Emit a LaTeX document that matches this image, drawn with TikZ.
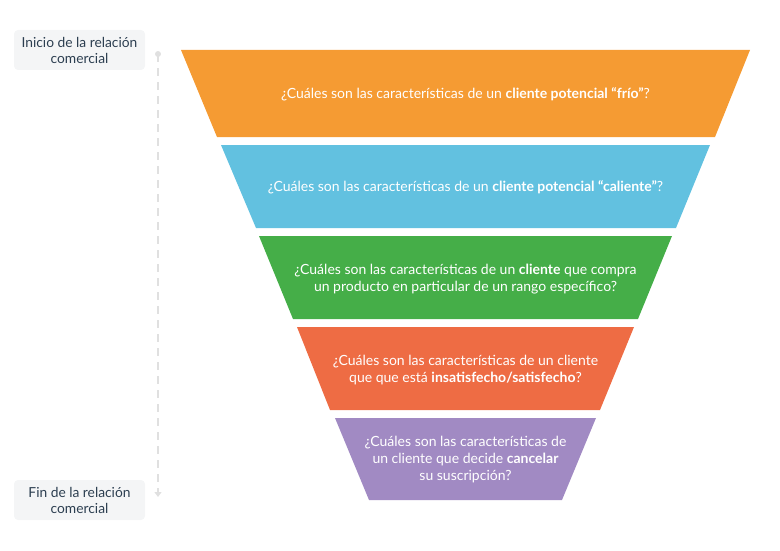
\documentclass[tikz,border=0pt]{standalone}
\usepackage{fontspec}
\setmainfont{Lato}
\usetikzlibrary{arrows.meta}
\definecolor{c1}{HTML}{F59B33}
\definecolor{c2}{HTML}{62C1E0}
\definecolor{c3}{HTML}{45AE48}
\definecolor{c4}{HTML}{EE6C44}
\definecolor{c5}{HTML}{A18AC3}
\definecolor{lab}{HTML}{2C3E50}
\definecolor{boxf}{HTML}{F4F5F6}
\begin{document}
\begin{tikzpicture}[x=1pt,y=-1pt,
  lbl/.style={fill=boxf,rounded corners=4pt,text=lab,align=center,font=\fontsize{13.8}{16}\selectfont,minimum width=131pt,minimum height=40pt,inner sep=0pt},
  ft/.style={text=white,align=center,font=\fontsize{14}{17}\selectfont}]
\useasboundingbox (0,0) rectangle (780,551);
\node[lbl] (a) at (79.5,50) {Inicio de la relación\\comercial};
\node[lbl] (b) at (79.5,500) {Fin de la relación\\comercial};
\coordinate (s) at (158,54);
\coordinate (e) at (158,497);
\fill[black!12] (s) circle (3);
\draw[black!12,line width=1.5pt,dash pattern=on 8pt off 6pt,-{Triangle[width=7pt,length=5pt]}] (s) -- (e);
\fill[c1] (181,50) -- (750,50) -- (715,137) -- (217,137) -- cycle;
\fill[c2] (221,145) -- (710,145) -- (676,228) -- (256,228) -- cycle;
\fill[c3] (259,236) -- (672,236) -- (638,319) -- (293,319) -- cycle;
\fill[c4] (297,327) -- (634,327) -- (600,410) -- (330,410) -- cycle;
\fill[c5] (335,418) -- (596,418) -- (562,500) -- (369,500) -- cycle;
\node[ft] (t1) at (465.5,94) {¿Cuáles son las características de un \textbf{cliente potencial “frío”}?};
\node[ft] (t2) at (465.5,187) {¿Cuáles son las características de un \textbf{cliente potencial “caliente”}?};
\node[ft] (t3) at (465.5,279) {¿Cuáles son las características de un \textbf{cliente} que compra\\un producto en particular de un rango específico?};
\node[ft] (t4) at (465.5,370) {¿Cuáles son las características de un cliente\\que que está \textbf{insatisfecho/satisfecho}?};
\node[ft] (t5) at (465.5,460) {¿Cuáles son las características de\\un cliente que decide \textbf{cancelar}\\su suscripción?};
\end{tikzpicture}
\end{document}
